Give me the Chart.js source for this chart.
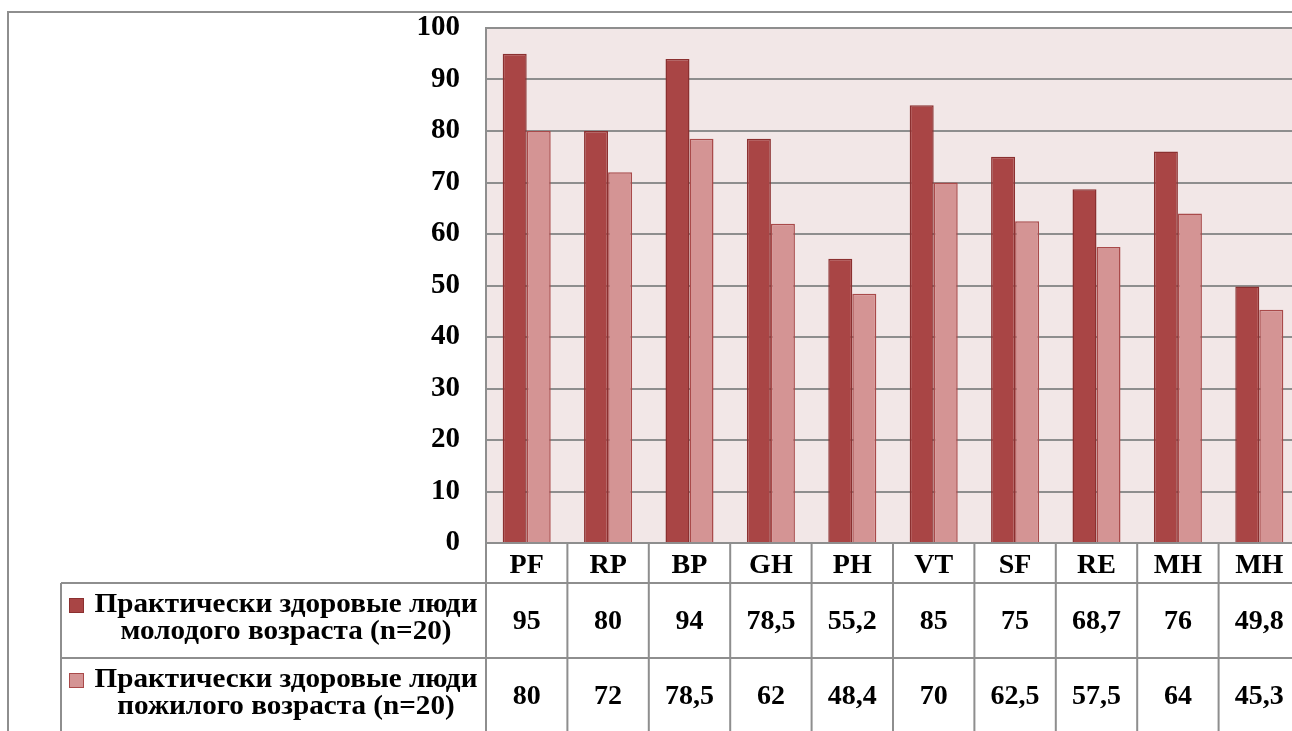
<!DOCTYPE html>
<html>
<head>
<meta charset="utf-8">
<script src="https://cdn.jsdelivr.net/npm/chart.js@4/dist/chart.umd.min.js"></script>
<style>
  html, body { margin: 0; padding: 0; background: #fff; overflow: hidden; }
  canvas { display: block; }
</style>
</head>
<body>
<canvas id="c" width="1304" height="731"></canvas>
<script>
// data
const categories = ['PF', 'RP', 'BP', 'GH', 'PH', 'VT', 'SF', 'RE', 'MH', 'MH'];
const youngValues = [95, 80, 94, 78.5, 55.2, 85, 75, 68.7, 76, 49.8];
const oldValues = [80, 72, 78.5, 62, 48.4, 70, 62.5, 57.5, 64, 45.3];
const youngLabel = ['Практически здоровые люди', 'молодого возраста (n=20)'];
const oldLabel = ['Практически здоровые люди', 'пожилого возраста (n=20)'];

const FONT = '"Liberation Serif", "Times New Roman", serif';
const darkFill = '#a94545', darkLine = '#8b3030';
const lightFill = '#d49494', lightLine = '#a94a4a';
const gridGray = '#8e8e8e';

const fmt = v => String(v).replace('.', ',');

// frame, plot background and the data table under the axis
const tablePlugin = {
  id: 'tablePlugin',
  beforeDraw(chart) {
    const ctx = chart.ctx, a = chart.chartArea;
    ctx.save();
    ctx.fillStyle = '#fff';
    ctx.fillRect(0, 0, chart.width, chart.height);
    ctx.strokeStyle = gridGray;
    ctx.lineWidth = 2;
    ctx.beginPath();
    ctx.moveTo(8, chart.height);
    ctx.lineTo(8, 12);
    ctx.lineTo(chart.width, 12);
    ctx.stroke();
    ctx.fillStyle = '#f2e7e7';
    ctx.fillRect(a.left, a.top, a.right - a.left, a.bottom - a.top);
    ctx.restore();
  },
  afterDraw(chart) {
    const ctx = chart.ctx, a = chart.chartArea, x = chart.scales.x;
    const half = (x.getPixelForValue(1) - x.getPixelForValue(0)) / 2;
    const rowTop = a.bottom + 40, rowMid = rowTop + 75, bottom = chart.height;
    const tableLeft = 61;
    ctx.save();
    ctx.strokeStyle = gridGray;
    ctx.lineWidth = 2;
    ctx.beginPath();
    ctx.moveTo(a.left, a.bottom); ctx.lineTo(chart.width, a.bottom);
    ctx.moveTo(tableLeft, rowTop); ctx.lineTo(chart.width, rowTop);
    ctx.moveTo(tableLeft, rowMid); ctx.lineTo(chart.width, rowMid);
    ctx.moveTo(tableLeft, rowTop); ctx.lineTo(tableLeft, bottom);
    ctx.moveTo(a.left, a.top); ctx.lineTo(a.right, a.top);
    categories.forEach((c, i) => {
      const px = x.getPixelForValue(i) + half;
      ctx.moveTo(px, a.bottom); ctx.lineTo(px, bottom);
    });
    ctx.moveTo(a.left, a.bottom); ctx.lineTo(a.left, bottom);
    ctx.stroke();

    ctx.fillStyle = '#000';
    ctx.font = 'bold 28px ' + FONT;
    ctx.textAlign = 'center';
    ctx.textBaseline = 'middle';
    categories.forEach((c, i) => {
      const px = x.getPixelForValue(i);
      ctx.fillText(fmt(youngValues[i]), px, rowTop + 39);
      ctx.fillText(fmt(oldValues[i]), px, rowMid + 39);
    });

    // legend cells (text a little wider, as in the original)
    const rows = [[youngLabel, darkFill, darkLine, rowTop], [oldLabel, lightFill, lightLine, rowMid]];
    ctx.font = 'bold 27px ' + FONT;
    rows.forEach(([lines, fill, line, top]) => {
      ctx.fillStyle = fill;
      ctx.strokeStyle = line;
      ctx.lineWidth = 1;
      ctx.fillRect(69, top + 15, 15, 15);
      ctx.strokeRect(69.5, top + 15.5, 14, 14);
      ctx.fillStyle = '#000';
      ctx.save();
      ctx.translate(286, 0);
      ctx.scale(1.08, 1);
      ctx.fillText(lines[0], 0, top + 22);
      ctx.fillText(lines[1], 0, top + 49);
      ctx.restore();
    });
    ctx.restore();
  }
};

new Chart(document.getElementById('c'), {
  type: 'bar',
  data: {
    labels: categories,
    datasets: [
      { label: youngLabel.join(' '), data: youngValues, backgroundColor: darkFill, borderColor: darkLine, borderWidth: 1.5, borderSkipped: 'bottom' },
      { label: oldLabel.join(' '), data: oldValues, backgroundColor: lightFill, borderColor: lightLine, borderWidth: 1.5, borderSkipped: 'bottom' }
    ]
  },
  options: {
    responsive: false,
    devicePixelRatio: 1,
    animation: false,
    layout: { padding: { left: 0, top: 28, right: 4, bottom: 0 } },
    plugins: { legend: { display: false }, tooltip: { enabled: false } },
    datasets: { bar: { categoryPercentage: 0.59, barPercentage: 1 } },
    scales: {
      x: {
        grid: { display: false, drawTicks: false },
        border: { display: false },
        ticks: { color: '#000', font: { family: FONT, size: 28, weight: 'bold' }, padding: 6, maxRotation: 0, autoSkip: false },
        afterFit(s) { s.height = 188; }
      },
      y: {
        min: 0, max: 100,
        grid: { color: gridGray, lineWidth: 2, drawTicks: false },
        border: { display: true, color: gridGray, width: 2 },
        ticks: { stepSize: 10, color: '#000', font: { family: FONT, size: 29, weight: 'bold' }, padding: 26 },
        afterFit(s) { s.width = 486; s.paddingTop = 0; s.paddingBottom = 0; }
      }
    }
  },
  plugins: [tablePlugin]
});
</script>
</body>
</html>
